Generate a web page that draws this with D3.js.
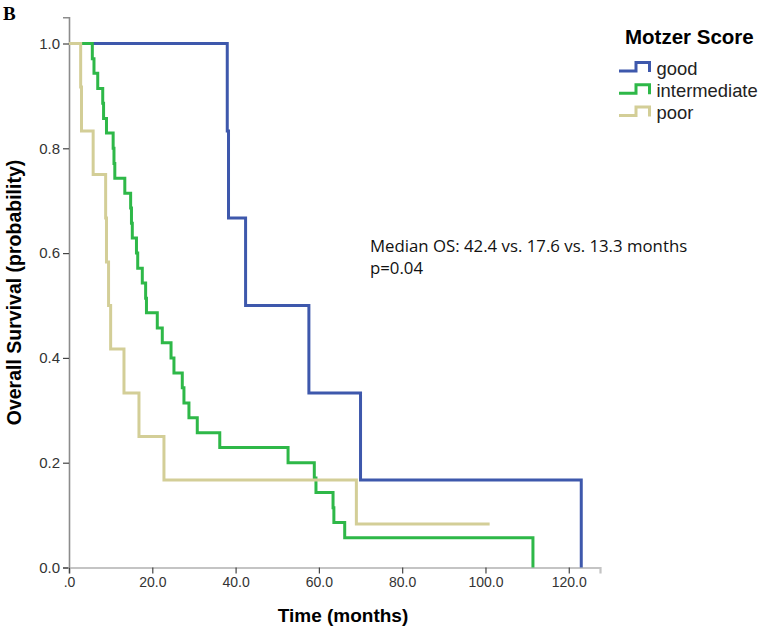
<!DOCTYPE html>
<html>
<head>
<meta charset="utf-8">
<script src="https://cdn.jsdelivr.net/npm/d3@7"></script>
<style>
  html, body { margin: 0; padding: 0; background: #fff; }
  svg { display: block; }
</style>
</head>
<body>
<svg id="chart" width="765" height="632"></svg>
<script>
// ---- data ----
const seriesNames = ["good", "intermediate", "poor"];
const seriesColors = ["#3E58AC", "#2EB848", "#D3CE97"];

const goodTime = [0, 38.0, 38.3, 42.4, 57.6, 70.0, 123.0];
const goodSurv = [1.0, 0.833, 0.667, 0.5, 0.333, 0.167, 0.0];

const interTime = [0, 5.6, 6.0, 6.9, 8.1, 8.3, 9.0, 10.6, 10.8, 11.0,
  13.4, 14.8, 15.0, 15.2, 16.2, 16.5, 17.6, 18.4, 18.6,
  21.2, 22.4, 24.5, 25.2, 27.2, 27.6, 28.8, 30.8, 36.2,
  52.6, 58.9, 59.3, 63.4, 63.6, 66.2, 111.4];
const interSurv = [1.0, 0.971, 0.943, 0.914, 0.886, 0.857, 0.829, 0.800, 0.771, 0.743,
  0.714, 0.686, 0.657, 0.629, 0.600, 0.571, 0.543, 0.514, 0.486,
  0.457, 0.429, 0.400, 0.371, 0.343, 0.314, 0.286, 0.257, 0.229,
  0.200, 0.171, 0.143, 0.114, 0.086, 0.057, 0.0];

const poorTime = [0, 2.8, 3.0, 5.8, 8.8, 9.0, 9.5, 10.0, 13.2, 16.8, 22.8, 69.0, 101.0];
const poorSurv = [1.0, 0.917, 0.833, 0.750, 0.667, 0.583, 0.500, 0.417, 0.333, 0.250, 0.167, 0.083, 0.083];

const xTicks = [0, 20, 40, 60, 80, 100, 120];
const yTicks = [0.0, 0.2, 0.4, 0.6, 0.8, 1.0];

const legendTitle = "Motzer Score";
const xTitle = "Time (months)";
const yTitle = "Overall Survival (probability)";
const panelLabel = "B";
const noteLines = ["Median OS: 42.4 vs. 17.6 vs. 13.3 months", "p=0.04"];

// ---- layout ----
const svg = d3.select("#chart");
const x = d3.scaleLinear().domain([0, 127.5]).range([69, 600]);
const y = d3.scaleLinear().domain([0, 1.05]).range([567.5, 17.3]);

const sans = "'Liberation Sans', Arial, sans-serif";

// axes
const yAxis = d3.axisLeft(y).tickValues(yTicks).tickFormat(d3.format(".1f")).tickSizeOuter(0).tickSize(6).tickPadding(3);
const yg = svg.append("g").attr("transform", "translate(69,0)").call(yAxis);
yg.select(".domain").attr("stroke", "#8c8c8c").attr("stroke-width", 1.6);
yg.selectAll(".tick line").attr("stroke", "#444").attr("stroke-width", 1.2);
yg.selectAll(".tick text").attr("font-family", sans).attr("font-size", 15).attr("fill", "#333");

const xAxis = d3.axisBottom(x).tickValues(xTicks)
  .tickFormat(d => d === 0 ? ".0" : d3.format(".1f")(d)).tickSizeOuter(0).tickSize(6).tickPadding(4);
const xg = svg.append("g").attr("transform", "translate(0,567.5)").call(xAxis);
xg.select(".domain").attr("stroke", "#c4c4c4").attr("stroke-width", 2.2);
xg.selectAll(".tick line").attr("stroke", "#444").attr("stroke-width", 1.2);
xg.selectAll(".tick text").attr("font-family", sans).attr("font-size", 14).attr("fill", "#333");

// curves
const line = d3.line().x(d => x(d[0])).y(d => y(d[1])).curve(d3.curveStepAfter);
const curves = [
  { name: "good", t: goodTime, s: goodSurv, color: seriesColors[0] },
  { name: "intermediate", t: interTime, s: interSurv, color: seriesColors[1] },
  { name: "poor", t: poorTime, s: poorSurv, color: seriesColors[2] }
];
curves.forEach(c => {
  const pts = c.t.map((t, i) => [t, c.s[i]]);
  svg.append("path")
    .attr("d", line(pts))
    .attr("fill", "none")
    .attr("stroke", c.color)
    .attr("stroke-width", 3)
    .attr("stroke-linejoin", "miter");
});

// axis titles
svg.append("text").attr("x", 343).attr("y", 622)
  .attr("text-anchor", "middle").attr("font-family", sans).attr("font-weight", "bold")
  .attr("font-size", 19).attr("fill", "#000").text(xTitle);
svg.append("text").attr("transform", "translate(20.5,292.5) rotate(-90)")
  .attr("text-anchor", "middle").attr("font-family", sans).attr("font-weight", "bold")
  .attr("font-size", 19.5).attr("fill", "#000").text(yTitle);

// panel label
svg.append("text").attr("x", 3).attr("y", 19.5)
  .attr("font-family", "'Liberation Serif', 'Times New Roman', serif").attr("font-weight", "bold")
  .attr("font-size", 19).attr("fill", "#000").text(panelLabel);

// legend
svg.append("text").attr("x", 625).attr("y", 44.3)
  .attr("font-family", sans).attr("font-weight", "bold").attr("font-size", 20.5)
  .attr("fill", "#000").text(legendTitle);
seriesNames.forEach((n, i) => {
  const by = 74.5 + i * 22.2;
  const x0 = 619;
  svg.append("path")
    .attr("d", `M${x0},${by - 3.5}H${x0 + 17}V${by - 12}H${x0 + 30.5}V${by - 2.5}`)
    .attr("fill", "none").attr("stroke", seriesColors[i]).attr("stroke-width", 3);
  svg.append("text").attr("x", 656.5).attr("y", by)
    .attr("font-family", sans).attr("font-size", 18.4).attr("fill", "#222").text(n);
});

// annotation
noteLines.forEach((s, i) => {
  svg.append("text").attr("x", 370).attr("y", 252 + i * 22)
    .attr("font-family", "'Open Sans', sans-serif").attr("font-size", 16.8)
    .attr("fill", "#111").text(s);
});
</script>
</body>
</html>
